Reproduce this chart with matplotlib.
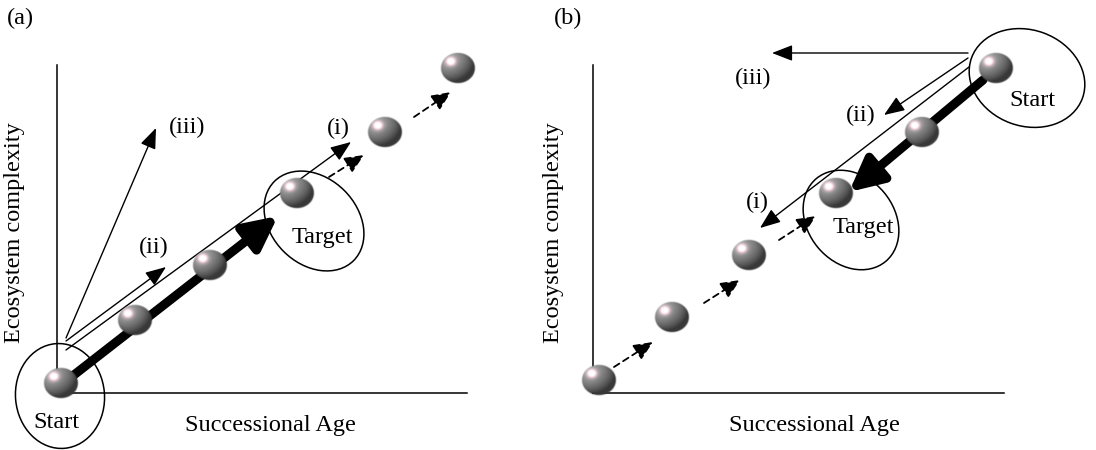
import numpy as np
import matplotlib
matplotlib.use("Agg")
import matplotlib.pyplot as plt
from matplotlib.patches import Ellipse, FancyArrowPatch, ArrowStyle

plt.rcParams['font.family'] = ['Liberation Serif', 'DejaVu Serif']

# ---- data (figure pixel coordinates, y downward) ----
panel_labels = ["(a)", "(b)"]
panel_label_x = [7, 554]
axis_x_a = [57, 467]        # x-axis extent panel (a)
axis_y_a = [65, 393]        # y-axis extent panel (a)
axis_x_b = [593, 1004]
axis_y_b = [65, 393]
xlabel_text = "Successional Age"
ylabel_text = "Ecosystem complexity"

balls_x_a = [61, 135, 210, 297, 385, 458]
balls_y_a = [383, 320, 265, 193, 132, 68]
balls_x_b = [599, 672, 749, 836, 922, 996]
balls_y_b = [380, 317, 255, 193, 132, 68]

# thin trajectory arrows (start x, start y, end x, end y)
thin_a = {"(i)": (66, 350, 351, 142), "(ii)": (66, 341, 166, 267), "(iii)": (66, 338, 156, 128)}
thin_b = {"(i)": (969, 67, 760, 228), "(ii)": (968, 58, 884, 115), "(iii)": (968, 53, 772, 53)}
thin_label_a = {"(i)": (338, 128), "(ii)": (154, 247), "(iii)": (187, 127)}
thin_label_b = {"(i)": (757, 202), "(ii)": (861, 115), "(iii)": (753, 78)}

thick_a = (70, 378, 278, 216)
thick_b = (983, 80, 849, 192)

dashed_a = [(329, 177, 364, 155), (414, 117, 451, 92)]
dashed_b = [(614, 367, 653, 342), (704, 303, 740, 280), (779, 240, 816, 216)]

ellipses = {  # name: (cx, cy, width, height, angle)
    "start_a": (60, 396, 89, 105, -5),
    "target_a": (314, 221, 112, 86, 45),
    "start_b": (1027, 78, 118, 96, 20),
    "target_b": (851, 220, 108, 86, 50),
}
ellipse_text = {"start_a": ("Start", 56, 423), "target_a": ("Target", 322, 238),
                "start_b": ("Start", 1032, 100), "target_b": ("Target", 863, 228)}

# ---- figure ----
fig = plt.figure(figsize=(10.96, 4.5), dpi=100)
ax = fig.add_axes([0, 0, 1, 1])
ax.set_xlim(0, 1096)
ax.set_ylim(450, 0)
ax.axis('off')

FS = 17.5

# sphere image
n = 64
u, v = np.meshgrid(np.linspace(-1, 1, n), np.linspace(-1, 1, n))
r2 = u**2 + v**2
inside = r2 <= 1
nz = np.sqrt(np.clip(1 - r2, 0, 1))
light = np.array([-0.5, -0.55, 0.67]); light /= np.linalg.norm(light)
diff = np.clip(u * light[0] + v * light[1] + nz * light[2], 0, 1)
base = 0.22 + 0.40 * diff
spec = np.exp(-(((u + 0.4) ** 2 + (v + 0.42) ** 2) / 0.07))
img = np.zeros((n, n, 4))
img[..., 0] = np.clip(base + 0.80 * spec, 0, 1)
img[..., 1] = np.clip(base + 0.55 * spec, 0, 1)
img[..., 2] = np.clip(base + 0.62 * spec, 0, 1)
edge = np.clip((1 - np.sqrt(r2)) * 12, 0, 1)
img[..., 3] = np.where(inside, edge, 0)


def draw_balls(xs, ys):
    for x, y in zip(xs, ys):
        ax.imshow(img, extent=(x - 18, x + 18, y + 16, y - 16), origin='upper',
                  aspect='auto', zorder=4, interpolation='bilinear')


def arrow(seg, lw=1.0, ls='-', hl=0.9, hw=0.35, ms=14, z=3):
    x0, y0, x1, y1 = seg
    p = FancyArrowPatch((x0, y0), (x1, y1),
                        arrowstyle=ArrowStyle('-|>', head_length=hl, head_width=hw),
                        mutation_scale=ms, lw=lw, linestyle=ls, color='black',
                        shrinkA=0, shrinkB=0, zorder=z)
    ax.add_patch(p)


for lab, px in zip(panel_labels, panel_label_x):
    ax.text(px, 18, lab, fontsize=FS, ha='left', va='center')

for axx, axy, xl_x, yl_x in [(axis_x_a, axis_y_a, 270, 15), (axis_x_b, axis_y_b, 814, 553)]:
    ax.plot([axx[0], axx[0]], [axy[0], axy[1]], color='black', lw=1.1, zorder=1)
    ax.plot([axx[0], axx[1]], [axy[1], axy[1]], color='black', lw=1.1, zorder=1)
    ax.text(xl_x, 425, xlabel_text, fontsize=FS, ha='center', va='center')
    ax.text(yl_x, (axy[0] + axy[1]) / 2 + 4, ylabel_text, fontsize=FS,
            ha='center', va='center', rotation=90)

for thin, labs in [(thin_a, thin_label_a), (thin_b, thin_label_b)]:
    for k, seg in thin.items():
        arrow(seg, lw=1.0, hl=0.9, hw=0.35, ms=14)
        ax.text(labs[k][0], labs[k][1], k, fontsize=FS, ha='center', va='center')

arrow(thick_a, lw=6.5, hl=1.05, hw=0.52, ms=19, z=3)
arrow(thick_b, lw=6.5, hl=1.05, hw=0.52, ms=19, z=3)

for seg in dashed_a + dashed_b:
    arrow(seg, lw=1.3, ls=(0, (3.5, 2.5)), hl=0.9, hw=0.4, ms=13)

for k, (cx, cy, w, h, ang) in ellipses.items():
    ax.add_patch(Ellipse((cx, cy), w, h, angle=ang, fill=False, lw=1.1,
                         edgecolor='black', zorder=5))
    t, tx, ty = ellipse_text[k]
    ax.text(tx, ty, t, fontsize=FS, ha='center', va='center', zorder=6)

draw_balls(balls_x_a, balls_y_a)
draw_balls(balls_x_b, balls_y_b)

ax.set_xlim(0, 1096)
ax.set_ylim(450, 0)
fig.savefig("out.png", dpi=100, facecolor='white')
